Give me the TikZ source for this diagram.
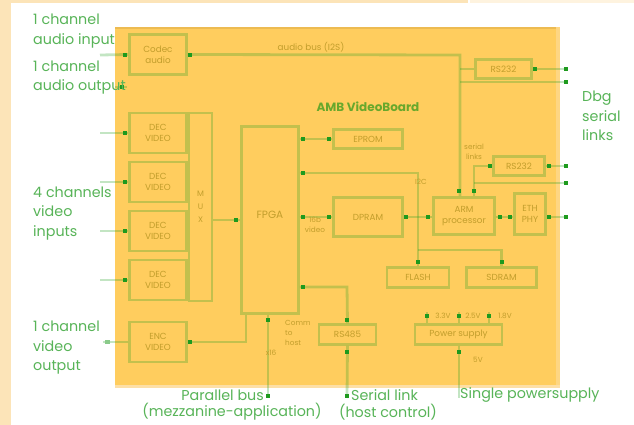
\documentclass[tikz,border=0pt]{standalone}
\usepackage{fontspec}
\setmainfont{Poppins}
\definecolor{bgbeige}{HTML}{FCE4B8}
\definecolor{orangebg}{HTML}{FFCD5E}
\definecolor{orangetop}{HTML}{EDBB52}
\definecolor{lg}{HTML}{22A022}
\definecolor{dg}{HTML}{1E9A1E}
\definecolor{boxtxt}{HTML}{C29E2C}
\definecolor{labgreen}{HTML}{58B458}
\definecolor{titlegreen}{HTML}{68A82C}
\begin{document}
\begin{tikzpicture}[x=1pt,y=-1pt,
  ln/.style={draw=lg, draw opacity=0.27, line width=2.8pt},
  bx/.style={draw=lg, draw opacity=0.27, line width=2.8pt, rectangle, inner sep=0pt,
    font=\fontsize{8.8}{11}\selectfont, text=boxtxt, align=center},
  lab/.style={text=labgreen, font=\fontsize{14.3}{19.5}\selectfont, align=left, anchor=west, inner sep=0pt},
  sm/.style={text=boxtxt, font=\fontsize{7.3}{10}\selectfont, inner sep=0pt, align=center}]
\useasboundingbox (0,0) rectangle (634,425);
% background
\fill[white] (0,0) rectangle (634,425);
\fill[bgbeige] (0,0) rectangle (11,425);
\fill[bgbeige] (0,0) rectangle (468,3);
\fill[bgbeige!45] (470,0) rectangle (634,3);
\fill[orangebg] (115,27) rectangle (560,385);
\fill[orangetop] (115,27) rectangle (560,29.5);
\fill[orangebg!60!bgbeige] (556,27) rectangle (560,385);
\fill[bgbeige!80!orangebg] (115,385) rectangle (560,388);

% boxes
\node[bx, minimum width=57pt, minimum height=40pt] (codec) at (158,54.5) {Codec\\audio};
\node[bx, minimum width=57pt, minimum height=40pt] (dec1) at (158,133) {DEC\\VIDEO};
\node[bx, minimum width=57pt, minimum height=40pt] (dec2) at (158,182) {DEC\\VIDEO};
\node[bx, minimum width=57pt, minimum height=40pt] (dec3) at (158,231) {DEC\\VIDEO};
\node[bx, minimum width=57pt, minimum height=40pt] (dec4) at (158,280) {DEC\\VIDEO};
\node[bx, minimum width=57pt, minimum height=40pt] (enc) at (158,342) {ENC\\VIDEO};
\node[bx, minimum width=23pt, minimum height=188pt, font=\fontsize{8}{13}\selectfont] (mux) at (200.5,207) {M\\U\\X};
\node[bx, minimum width=57pt, minimum height=187pt, font=\fontsize{10.5}{12}\selectfont] (fpga) at (270,220) {\raisebox{11pt}{FPGA}};
\node[bx, minimum width=69pt, minimum height=19pt] (eprom) at (368,139) {EPROM};
\node[bx, minimum width=69pt, minimum height=39pt] (dpram) at (368,217) {DPRAM};
\node[bx, minimum width=61pt, minimum height=37pt] (proc) at (464,216) {ARM\\processor};
\node[bx, minimum width=31pt, minimum height=41pt] (phy) at (530,214) {ETH\\PHY};
\node[bx, minimum width=56pt, minimum height=19pt] (rsTop) at (503.5,69) {RS232};
\node[bx, minimum width=51pt, minimum height=19pt] (rsMid) at (519,166) {RS232};
\node[bx, minimum width=62pt, minimum height=20pt] (flash) at (418,277.5) {FLASH};
\node[bx, minimum width=70pt, minimum height=20pt] (sdram) at (501.5,277.5) {SDRAM};
\node[bx, minimum width=87pt, minimum height=20pt] (power) at (458.5,334.5) {Power supply};
\node[bx, minimum width=57pt, minimum height=20pt] (rs485) at (347.5,334.5) {RS485};

% free ends
\coordinate (ain) at (100,55);
\coordinate (aout) at (115,87);
\coordinate (aout2) at (127,87);
\coordinate (busTR) at (460,55);
\coordinate (j1) at (460,69);
\coordinate (j2) at (460,82);
\coordinate (o1) at (568,69);
\coordinate (o2) at (568,82);
\coordinate (in1) at (100,133);
\coordinate (in2) at (100,182);
\coordinate (in3) at (100,231);
\coordinate (in4) at (100,280);
\coordinate (f1) at (418,173);
\coordinate (f2) at (418,250);
\coordinate (f3) at (347,287);
\coordinate (f4) at (268,398);
\coordinate (f5) at (246,342);
\coordinate (p1) at (474,166);
\coordinate (p2) at (474,183);
\coordinate (o3) at (568,217);
\coordinate (o4) at (568,166);
\coordinate (o5) at (568,183);
\coordinate (o6) at (347,398);
\coordinate (o7) at (103,342);
\coordinate (o8) at (459,398);
\coordinate (v1) at (427,312);
\coordinate (v2) at (459,312);
\coordinate (v3) at (489,312);

% connectors
\draw[ln] (ain) -- (codec.west);
\draw[ln] (aout) -- (aout2);
\draw[ln] (codec.east) -- (busTR) -- (proc.north -| busTR);
\draw[ln] (j1) -- (rsTop.west);
\draw[ln] (rsTop.east) -- (o1);
\draw[ln] (j2) -- (o2);
\draw[ln] (in1) -- (dec1.west);
\draw[ln] (in2) -- (dec2.west);
\draw[ln] (in3) -- (dec3.west);
\draw[ln] (in4) -- (dec4.west);
\draw[ln] (mux.east |- fpga.west) -- (fpga.west);
\draw[ln] (fpga.east |- eprom.west) -- (eprom.west);
\draw[ln] (fpga.east |- f1) -- (f1) -- (flash.north);
\draw[ln] (f2) -- (f2 -| sdram.north) -- (sdram.north);
\draw[ln] (fpga.east |- dpram.west) -- (dpram.west);
\draw[ln] (dpram.east) -- (proc.west |- dpram.east);
\draw[ln] (proc.east |- dpram.east) -- (phy.west |- dpram.east);
\draw[ln] (phy.east |- o3) -- (o3);
\draw[ln] (proc.north -| p1) -- (p1) -- (rsMid.west);
\draw[ln] (rsMid.east) -- (o4);
\draw[ln] (p2) -- (o5);
\draw[ln] (fpga.east |- f3) -- (f3) -- (rs485.north);
\draw[ln] (rs485.south) -- (o6);
\draw[ln] (fpga.south -| f4) -- (f4);
\draw[ln] (fpga.south -| f5) -- (f5) -- (enc.east);
\draw[ln] (enc.west) -- (o7);
\draw[ln] (v1) -- (v1 |- power.north);
\draw[ln] (v2) -- (v2 |- power.north);
\draw[ln] (v3) -- (v3 |- power.north);
\draw[ln] (power.south -| o8) -- (o8);

% connection dots
\foreach \p in {(125,55),(190,55),(535,69),(566,69),(566,82),
  (125,133),(125,182),(125,231),(125,280),(236,220),
  (303,139),(329,139),(303,173),(418,262),(502,262),
  (303,217),(329,217),(406,217),(428,217),(500,217),(510,217),(549,217),(566,217),
  (459,191),(474,191),(490,166),(549,166),(566,166),(566,183),
  (303,287),(347,320),(347,352),(347,396),(268,320),(268,396),(190,342),
  (427,316),(459,316),(489,316),(459,352),(122,87)}
  \fill[dg] \p ++(-2,-2) rectangle ++(4,4);
\fill[labgreen!70] (105,340) rectangle ++(5,4);

% small labels
\node[sm, font=\fontsize{8.8}{10}\selectfont] (busl) at (311,47) {audio bus (I2S)};
\node[sm] (serl) at (474,152) {serial\\links};
\node[sm] (i2cl) at (421,182) {I2C};
\node[sm] (vidl) at (315,225) {16b\\video};
\node[sm, align=left, anchor=west, font=\fontsize{7.3}{10}\selectfont] (comml) at (285,333) {Comm\\to\\host};
\node[sm] (x16l) at (271,353) {x16};
\node[sm] (v33) at (443,316) {3.3V};
\node[sm] (v25) at (473,316) {2.5V};
\node[sm] (v18) at (505,316) {1.8V};
\node[sm] (v5) at (478,360) {5V};
\node[text=titlegreen, font=\bfseries\fontsize{12}{14}\selectfont, inner sep=0pt] (title) at (368,107) {AMB VideoBoard};

% outer labels
\node[lab] (lain) at (33,31) {1 channel\\audio input};
\node[lab] (laout) at (33,77.5) {1 channel\\audio output};
\node[lab] (lvin) at (33,213.5) {4 channels\\video\\inputs};
\node[lab] (lvout) at (33,348) {1 channel\\video\\output};
\node[lab] (ldbg) at (582,116) {Dbg\\serial\\links};
\node[lab, anchor=east] (lpar1) at (264,395) {Parallel bus};
\node[lab, anchor=center] (lpar2) at (232,412) {(mezzanine-application)};
\node[lab, anchor=west] (lser1) at (351,395) {Serial link};
\node[lab, anchor=center] (lser2) at (388,412) {(host control)};
\node[lab] (lpow) at (460,395) {Single powersupply};
\end{tikzpicture}
\end{document}
